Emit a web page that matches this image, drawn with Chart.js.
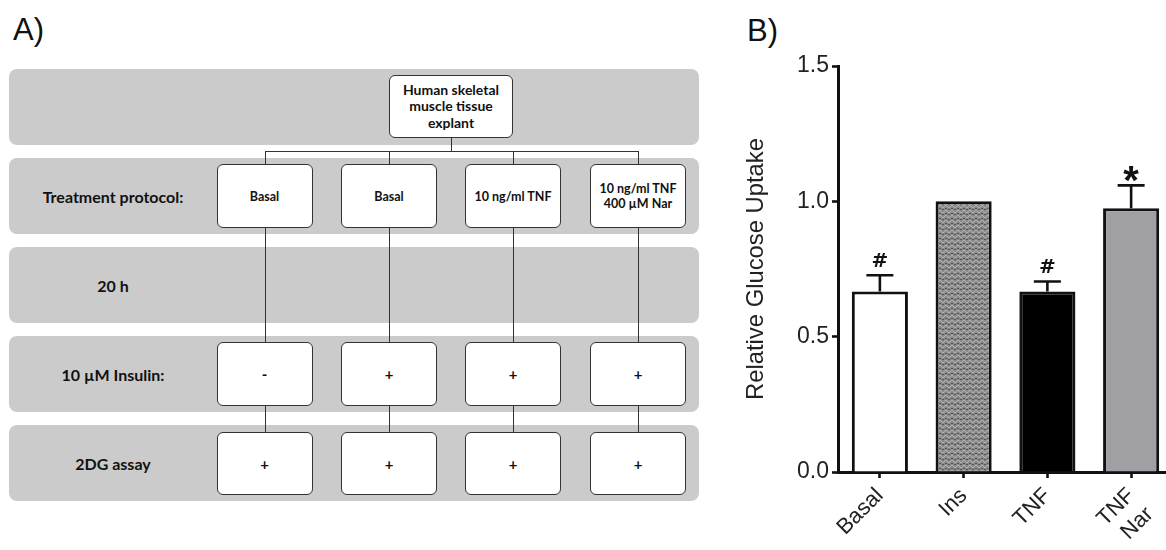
<!DOCTYPE html>
<html>
<head>
<meta charset="utf-8">
<script src="https://cdn.jsdelivr.net/npm/chart.js@4.4.1/dist/chart.umd.min.js"></script>
<style>
  html, body { margin: 0; padding: 0; background: #fff; }
  body { width: 1166px; height: 550px; overflow: hidden; position: relative; }
  .panel-label { position: absolute; font-family: "Liberation Sans", Arial, sans-serif; font-size: 31px; line-height: 31px; color: #111; }
  .band { position: absolute; left: 9px; width: 690px; height: 76px; background: #cbcbcb; border-radius: 8px; }
  .box { position: absolute; background: #fff; border: 1.4px solid #333; border-radius: 6px; box-sizing: border-box;
         display: flex; align-items: center; justify-content: center; text-align: center; white-space: pre-line;
         font-family: Lato, "Open Sans", sans-serif; font-weight: bold; color: #111; }
  .rowlabel { position: absolute; left: 13px; width: 200px; text-align: center; font-family: Lato, "Open Sans", sans-serif;
              font-weight: bold; font-size: 16px; color: #111; transform: translateY(-50%); }
  .vline { position: absolute; width: 0; border-left: 1.3px solid #333; }
  .hline { position: absolute; height: 0; border-top: 1.3px solid #333; }
  #chartWrap { position: absolute; left: 730px; top: 0; width: 445px; height: 550px; }
</style>
</head>
<body>
<div class="panel-label" style="left:13px; top:14px;">A)</div>
<div class="panel-label" style="left:747px; top:15px;">B)</div>
<div id="flow"></div>
<div id="chartWrap"><canvas id="chart" width="445" height="550"></canvas></div>
<script>
// ---- Panel A: experimental protocol ----
const sourceLabel = 'Human skeletal\nmuscle tissue\nexplant';
const rowLabels = ['', 'Treatment protocol:', '20 h', '10 µM Insulin:', '2DG assay'];
const treatments = ['Basal', 'Basal', '10 ng/ml TNF', '10 ng/ml TNF\n400 µM Nar'];
const insulinMarks = ['-', '+', '+', '+'];
const assayMarks = ['+', '+', '+', '+'];

// ---- Panel B: glucose uptake ----
const groups = ['Basal', 'Ins', 'TNF', ['TNF', 'Nar']];
const uptake = [0.667, 1.0, 0.667, 0.974];
const uptakeSem = [0.06, 0, 0.037, 0.085];
const sigMarks = ['#', '', '#', '*'];
const yTicks = [0, 0.5, 1.0, 1.5];

// layout of the protocol diagram
const flow = document.getElementById('flow');
const bandTops = [69, 158, 247, 336, 425];
const colCenters = [264.5, 389, 513, 638];
const boxW = 96;

function add(cls, style, text) {
  const d = document.createElement('div');
  d.className = cls;
  Object.assign(d.style, style);
  if (text !== undefined) d.textContent = text;
  flow.appendChild(d);
  return d;
}
const px = v => v + 'px';

bandTops.forEach((t, i) => {
  add('band', { top: px(t) });
  if (rowLabels[i]) add('rowlabel', { top: px(t + 38) }, rowLabels[i]);
});

// connectors
add('vline', { left: px(451), top: px(138), height: px(13) });
add('hline', { left: px(colCenters[0]), top: px(151), width: px(colCenters[3] - colCenters[0]) });
colCenters.forEach(c => {
  add('vline', { left: px(c), top: px(151), height: px(13) });
  add('vline', { left: px(c), top: px(228), height: px(114) });
  add('vline', { left: px(c), top: px(406), height: px(26) });
});

// boxes
add('box', { left: px(389), top: px(75), width: px(124), height: px(63), fontSize: '14px', lineHeight: '16.5px' }, sourceLabel);
colCenters.forEach((c, i) => {
  add('box', { left: px(c - boxW / 2), top: px(164), width: px(boxW), height: px(64), fontSize: '12.5px', lineHeight: '15px' }, treatments[i]);
  add('box', { left: px(c - boxW / 2), top: px(342), width: px(boxW), height: px(64), fontSize: '15px' }, insulinMarks[i]);
  add('box', { left: px(c - boxW / 2), top: px(432), width: px(boxW), height: px(63), fontSize: '15px' }, assayMarks[i]);
});

// ---- bar chart ----
function insulinFill() {
  const c = document.createElement('canvas');
  c.width = 6; c.height = 5;
  const g = c.getContext('2d');
  g.fillStyle = '#8a8a8a'; g.fillRect(0, 0, 6, 5);
  g.fillStyle = '#b0b0b0';
  g.fillRect(0, 0, 1, 1); g.fillRect(1, 1, 1, 1); g.fillRect(2, 2, 2, 1); g.fillRect(4, 1, 1, 1); g.fillRect(5, 0, 1, 1);
  g.fillStyle = '#555555';
  g.fillRect(2, 4, 2, 1); g.fillRect(0, 3, 1, 1); g.fillRect(5, 3, 1, 1);
  return g.createPattern(c, 'repeat');
}

const axisFont = { family: '"Liberation Sans", Arial, sans-serif', size: 23 };

const errorBars = {
  id: 'errorBars',
  afterDatasetsDraw(chart) {
    const { ctx, scales: { x, y } } = chart;
    ctx.save();
    ctx.strokeStyle = '#111';
    ctx.fillStyle = '#111';
    ctx.lineWidth = 2.6;
    uptake.forEach((v, i) => {
      const cx = x.getPixelForValue(i);
      const top = y.getPixelForValue(v + uptakeSem[i]);
      if (uptakeSem[i] > 0) {
        ctx.beginPath();
        ctx.moveTo(cx, y.getPixelForValue(v));
        ctx.lineTo(cx, top);
        ctx.moveTo(cx - 13.5, top);
        ctx.lineTo(cx + 13.5, top);
        ctx.stroke();
      }
      const m = sigMarks[i];
      if (m) {
        ctx.textAlign = 'center';
        ctx.textBaseline = 'alphabetic';
        if (m === '*') {
          ctx.font = 'bold 40px "Liberation Sans", Arial, sans-serif';
          ctx.fillText(m, cx, top + 9);
        } else {
          ctx.font = 'bold 20px "DejaVu Sans", sans-serif';
          ctx.fillText(m, cx, top - 8);
        }
      }
    });
    ctx.restore();
  }
};

new Chart(document.getElementById('chart'), {
  type: 'bar',
  data: {
    labels: groups,
    datasets: [{
      data: uptake,
      backgroundColor: ['#ffffff', insulinFill(), '#000000', '#a0a0a4'],
      borderColor: '#111',
      borderWidth: 3,
      barPercentage: 0.67,
      categoryPercentage: 1.0
    }]
  },
  options: {
    responsive: false,
    animation: false,
    events: [],
    layout: { padding: { top: 66, right: 2, left: 0, bottom: 0 } },
    plugins: { legend: { display: false }, tooltip: { enabled: false } },
    scales: {
      x: {
        offset: true,
        z: 1,
        grid: { drawOnChartArea: false, drawTicks: true, tickLength: 6, tickWidth: 2.6, tickColor: '#111', offset: false },
        border: { display: true, width: 3, color: '#111' },
        ticks: { minRotation: 45, maxRotation: 45, font: { ...axisFont, size: 22 }, color: '#222', padding: 5 },
        afterFit(s) { s.height = 78; }
      },
      y: {
        min: 0, max: 1.5,
        z: 1,
        grid: { drawOnChartArea: false, drawTicks: true, tickLength: 6, tickWidth: 2.6, tickColor: '#111' },
        border: { display: true, width: 3, color: '#111' },
        ticks: { font: axisFont, color: '#222', padding: 3, callback: v => Number(v).toFixed(1) },
        afterBuildTicks(s) { s.ticks = yTicks.map(v => ({ value: v })); },
        title: { display: true, text: 'Relative Glucose Uptake', font: { ...axisFont, size: 23.8 }, color: '#222', padding: { top: 12, bottom: 0 } },
        afterFit(s) { s.width = 108; }
      }
    }
  },
  plugins: [errorBars]
});
</script>
</body>
</html>
